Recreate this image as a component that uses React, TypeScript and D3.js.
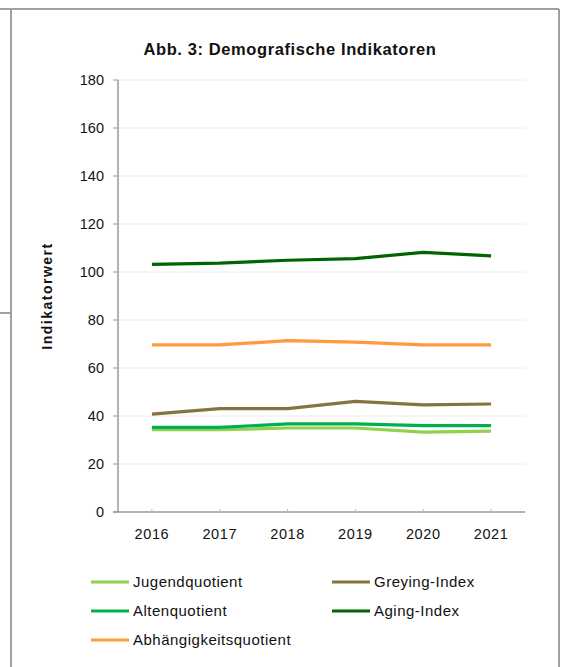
import React from "react";
import * as d3 from "d3";

const years = ["2016", "2017", "2018", "2019", "2020", "2021"];
const jugendquotient = [34.3, 34.3, 35.0, 35.0, 33.3, 33.7];
const altenquotient = [35.3, 35.3, 36.7, 36.7, 36.0, 36.0];
const abhaengigkeitsquotient = [69.6, 69.6, 71.4, 70.8, 69.6, 69.6];
const greyingIndex = [40.8, 43.1, 43.1, 46.1, 44.6, 45.0];
const agingIndex = [103.2, 103.7, 104.9, 105.6, 108.2, 106.7];
const yTicks = [0, 20, 40, 60, 80, 100, 120, 140, 160, 180];

const seriesNames = ["Jugendquotient", "Altenquotient", "Abhängigkeitsquotient", "Greying-Index", "Aging-Index"];
const seriesValues = [jugendquotient, altenquotient, abhaengigkeitsquotient, greyingIndex, agingIndex];
const seriesColors = ["#92d050", "#00b050", "#ff9a3a", "#857440", "#006400"];

const W = 562;
const H = 667;
const left = 118;
const right = 525;
const top = 80;
const bottom = 512;
const font = "'Liberation Sans', Arial, sans-serif";

export default function App() {
  const x = d3.scaleBand<string>().domain(years).range([left, right]).padding(0);
  const y = d3.scaleLinear().domain([0, 180]).range([bottom, top]);
  const cx = (yr: string) => (x(yr) ?? 0) + x.bandwidth() / 2;
  const line = d3
    .line<number>()
    .x((_, i) => cx(years[i]))
    .y((v) => y(v));

  const legendPos = [
    { x: 91, y: 582 },
    { x: 91, y: 611 },
    { x: 91, y: 640 },
    { x: 332, y: 582 },
    { x: 332, y: 611 },
  ];

  return (
    <svg
      width={W}
      height={H}
      style={{ position: "absolute", left: 0, top: 0, background: "#fff" }}
      fontFamily={font}
    >
      {/* frame */}
      <g stroke="#a0a0a0" strokeWidth={2} fill="none">
        <line x1={0} y1={9} x2={559} y2={9} />
        <line x1={11} y1={9} x2={11} y2={H} />
        <line x1={559} y1={9} x2={559} y2={H} />
        <line x1={0} y1={313} x2={11} y2={313} />
      </g>

      <text x={290} y={55} textAnchor="middle" fontSize={16.5} letterSpacing={0.6} fontWeight="bold" fill="#111">
        Abb. 3: Demografische Indikatoren
      </text>

      {/* gridlines */}
      {yTicks.map((t) =>
        t === 0 ? null : (
          <line key={"g" + t} x1={left} x2={right} y1={y(t)} y2={y(t)} stroke="#ececec" strokeWidth={1} />
        )
      )}

      {/* y axis */}
      <line x1={left} x2={left} y1={top} y2={bottom} stroke="#999" strokeWidth={1.5} />
      {yTicks.map((t) => (
        <g key={"t" + t}>
          <line x1={left - 5} x2={left} y1={y(t)} y2={y(t)} stroke="#999" strokeWidth={1} />
          <text x={left - 14} y={y(t)} dy="0.35em" textAnchor="end" fontSize={14.5} fill="#111">
            {t}
          </text>
        </g>
      ))}
      <text
        transform={`translate(47,${(top + bottom) / 2}) rotate(-90)`}
        textAnchor="middle"
        dy="0.35em"
        fontSize={14}
        letterSpacing={1.5}
        fontWeight="bold"
        fill="#111"
      >
        Indikatorwert
      </text>

      {/* x axis */}
      <line x1={left - 5} x2={right} y1={bottom} y2={bottom} stroke="#999" strokeWidth={1.5} />
      {years.map((yr) => (
        <g key={yr}>
          <line x1={cx(yr)} x2={cx(yr)} y1={bottom - 3} y2={bottom} stroke="#bbb" strokeWidth={1} />
          <text x={cx(yr)} y={534} dy="0.35em" textAnchor="middle" fontSize={14.5} letterSpacing={0.6} fill="#111">
            {yr}
          </text>
        </g>
      ))}

      {/* lines */}
      {seriesValues.map((vals, i) => (
        <path
          key={seriesNames[i]}
          d={line(vals) ?? ""}
          fill="none"
          stroke={seriesColors[i]}
          strokeWidth={3.2}
          strokeLinejoin="round"
        />
      ))}

      {/* legend */}
      {seriesNames.map((n, i) => (
        <g key={"l" + n}>
          <line
            x1={legendPos[i].x}
            x2={legendPos[i].x + 38}
            y1={legendPos[i].y}
            y2={legendPos[i].y}
            stroke={seriesColors[i]}
            strokeWidth={3.2}
          />
          <text x={legendPos[i].x + 42} y={legendPos[i].y} dy="0.35em" fontSize={15} letterSpacing={0.5} fill="#111">
            {n}
          </text>
        </g>
      ))}
    </svg>
  );
}
